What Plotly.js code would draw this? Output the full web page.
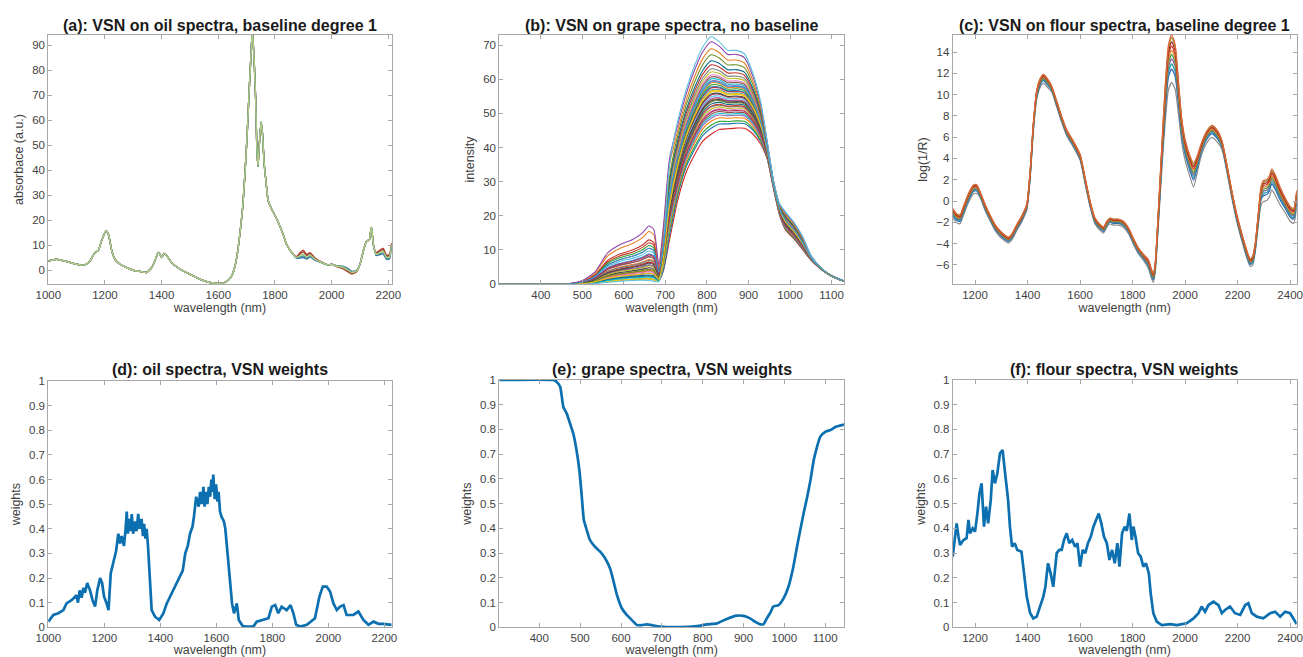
<!DOCTYPE html>
<html><head><meta charset="utf-8">
<script src="https://cdn.plot.ly/plotly-3.0.1.min.js"></script>
<style>html,body{margin:0;padding:0;background:#fff;} #chart{width:1303px;height:657px;}</style>
</head><body><div id="chart"></div>
<script>
// ---------- (a) oil spectra ----------
const oilWl = [1000,1029,1065,1100,1129,1147,1165,1176,1188,1204,1212,1224,1235,1253,1276,1300,1324,1347,1365,1376,1388,1394,1400,1408,1418,1435,1465,1500,1535,1571,1606,1629,1647,1659,1667,1676,1686,1694,1702,1709,1715,1720,1726,1732,1736,1740,1745,1751,1756,1762,1768,1776,1788,1806,1824,1841,1859,1876,1888,1900,1912,1924,1941,1965,1988,2000,2018,2041,2059,2071,2088,2100,2112,2124,2133,2138,2141,2147,2157,2171,2182,2194,2204,2212];
const oilBase = [3.7,4.4,3.5,2.4,2.1,3.7,7.1,7.8,11.8,15.8,14.4,7.8,4.4,2.4,1.1,0,-0.5,-0.9,1.1,3.7,7.1,6.4,5.1,6.7,5.8,3.1,0.4,-1.6,-3.6,-4.9,-5.3,-4.5,-2.3,1.7,6.4,14.4,25.1,38.5,54.6,71.9,85.3,96,85.3,67.9,49.2,41.5,50.5,59.2,54.6,42.5,35.8,27.8,24.5,20.5,15.8,10.4,7.1,5.1,5.8,6.4,5.3,6.1,4.4,3.1,2.1,2.4,1.7,1.1,0,-0.9,-0.3,2.4,7.8,11.8,12,15.8,17.1,10.4,6.4,7.1,7.5,5.1,5.3,10.4];
const oilDev = [0,0,0,0,0,0,0,0,0,0,0,0,0,0,0,0,0,0,0,0,0,0,0,0,0,0,0,0,0,0,0,0,0,0,0,0,0,0,0,0,0,0,0,0,0,0,0,0,0,0,0,0,0,0,0,0,0,0.3,1.2,1.6,1.0,0.9,0.5,0.2,0,0,-0.2,-0.5,-0.7,-0.6,-0.3,0,0,0,0,0,0,0,0.6,1.0,1.2,0.9,1.0,0.6];
const oilLevels = [1.0,-0.8,0.6,-0.4,0];
const oilColors = ['#c8432e','#2f6db0','#8a4b38','#3f8f8a','#b3cd86'];

// ---------- (b) grape spectra ----------
const grapeWl = [300,400,460,500,530,560,590,620,645,660,672,684,695,710,730,750,770,790,810,830,850,870,890,910,930,945,960,975,990,1010,1030,1050,1070,1090,1110,1130];
const grapeBase = [0,0,0,0,0.1,0.3,0.6,0.8,0.8,0.7,0.5,0.6,3,12,24,32,37,41,43,44.5,44.8,45,45,43.5,40.5,36.5,28,20,15.5,13,10,7,4.8,3,1.7,0.8];
const grapePlat = [0,0,0,0,0,0,0,0,0,0,0,0,8,23,24,25,27,28.5,29.5,26.5,23.7,23.5,22.5,18.5,12.5,5.5,2.5,3.5,5.5,5,4,1.5,0.5,0.2,0.2,0.1];
const grapeHump = [0,0,0,1,3.4,8.7,10.9,12.2,14.2,16.3,15.5,5,6,3,0,0,0,0,0,0,0,0,0,0,0,0,0,0,0,0,0,0,0,0,0,0];
const grapePlatLevels = [0.03,0.09,0.12,0.16,0.19,0.21,0.23,0.26,0.28,0.3,0.31,0.33,0.35,0.37,0.38,0.4,0.42,0.43,0.45,0.47,0.49,0.5,0.52,0.54,0.56,0.58,0.6,0.62,0.65,0.68,0.72,0.76,0.82,0.88,0.95,1.0,0.25,0.36,0.46,0.55];
const grapeHumpLevels = [0.1,0.05,0.3,0.2,0.45,0.15,0.6,0.25,0.05,0.35,0.7,0.2,0.1,0.4,0.3,0.55,0.15,0.25,0.05,0.5,0.35,0.1,0.65,0.2,0.3,0.08,0.45,0.18,0.28,0.38,0.75,0.12,0.22,0.9,1.0,0.02,0.48,0.33,0.15,0.6];
const grapeColors = ['#d62728','#1f77b4','#2ca02c','#ff7f0e','#9467bd','#17becf','#8c564b','#e377c2','#bcbd22','#7f7f7f','#c0392b','#0e6b8c','#6b8e23','#e67e22','#8e44ad','#5bc0de','#b03060','#4a4a4a','#f1c40f','#3498db'];
const grapeTicks = [400,500,600,700,800,900,1000,1100];

// ---------- (c) flour spectra ----------
const flourWl = [1115,1130,1143,1156,1175,1194,1206,1219,1238,1257,1276,1295,1314,1327,1340,1359,1378,1397,1410,1422,1435,1448,1460,1473,1492,1511,1530,1549,1575,1600,1619,1638,1657,1676,1689,1702,1714,1727,1746,1765,1784,1803,1822,1841,1860,1873,1879,1886,1898,1911,1924,1937,1949,1962,1975,1987,2000,2019,2032,2044,2063,2083,2102,2121,2140,2159,2178,2197,2216,2235,2248,2257,2267,2279,2289,2298,2311,2321,2330,2343,2362,2381,2400,2413,2425];
const flourBase = [-1.0,-1.5,-1.6,-0.8,0.4,1.2,1.25,0.7,-0.5,-1.5,-2.4,-3.0,-3.4,-3.6,-3.3,-2.4,-1.6,-0.5,2.6,7.0,10.1,11.2,11.6,11.3,10.6,9.2,7.75,6.5,5.4,4.2,2.0,-0.2,-1.8,-2.4,-2.65,-2.1,-1.8,-1.9,-1.9,-2.1,-2.7,-3.7,-4.6,-5.2,-5.8,-6.8,-7.1,-6.2,-1.5,4.2,9.5,13.2,14.0,13.2,10.1,7.0,5.1,3.5,2.75,3.5,5.1,6.2,6.7,6.3,5.4,3.2,0.7,-1.5,-3.3,-4.9,-5.7,-5.5,-4.3,-1.5,0.7,1.2,1.3,1.65,2.3,1.8,0.7,-0.2,-1.0,-1.2,0.4];
const flourSpread = [0.3,0.3,0.3,0.3,0.3,0.3,0.3,0.2,0.2,0.2,0.2,0.2,0.2,0.2,0.2,0.2,0.2,0.2,0.3,0.3,0.3,0.3,0.3,0.3,0.2,0.2,0.2,0.2,0.2,0.2,0.2,0.2,0.2,0.2,0.2,0.2,0.2,0.2,0.2,0.2,0.2,0.2,0.2,0.2,0.3,0.3,0.3,0.3,0.5,0.8,1.2,1.5,1.6,1.5,1.1,0.8,0.7,0.7,0.8,0.6,0.4,0.4,0.4,0.4,0.3,0.25,0.25,0.25,0.25,0.25,0.25,0.3,0.3,0.4,0.6,0.7,0.7,0.7,0.7,0.7,0.6,0.5,0.5,0.5,0.6];
const flourLevels = [-1.8,-1,-0.7,-0.4,-0.15,0.1,0.35,0.6,0.85,1.0];
const flourColors = ['#8a8a8a','#2b5fb8','#17a0a0','#8e5ea2','#3a9a3a','#e08a2e','#d03a2a','#a02020','#9a9a30','#e0603a'];

// ---------- (d) oil weights ----------
const oilWeightWl = [1000,1018,1036,1054,1065,1083,1101,1106,1112,1119,1125,1131,1139,1149,1158,1167,1175,1185,1192,1199,1208,1215,1223,1232,1242,1250,1256,1262,1270,1276,1280,1284,1289,1293,1298,1303,1310,1315,1321,1326,1333,1338,1342,1347,1351,1356,1361,1369,1381,1396,1411,1423,1435,1446,1458,1470,1480,1489,1498,1506,1515,1520,1524,1528,1532,1537,1542,1548,1554,1558,1563,1568,1573,1578,1582,1586,1589,1594,1599,1604,1608,1613,1618,1627,1632,1637,1646,1656,1663,1673,1680,1694,1708,1732,1744,1768,1786,1798,1810,1821,1833,1851,1865,1875,1885,1899,1923,1952,1968,1980,1994,2006,2018,2030,2042,2054,2065,2089,2107,2125,2143,2161,2179,2196,2226];
const oilWeights = [0.023,0.05,0.057,0.07,0.097,0.11,0.13,0.10,0.15,0.12,0.16,0.14,0.18,0.15,0.11,0.084,0.15,0.2,0.18,0.125,0.097,0.07,0.22,0.26,0.31,0.38,0.34,0.37,0.33,0.40,0.47,0.38,0.44,0.39,0.46,0.38,0.43,0.39,0.46,0.40,0.44,0.37,0.42,0.36,0.40,0.33,0.23,0.07,0.043,0.03,0.057,0.097,0.125,0.15,0.18,0.21,0.23,0.30,0.33,0.38,0.41,0.45,0.50,0.53,0.51,0.49,0.55,0.50,0.57,0.49,0.55,0.50,0.57,0.53,0.60,0.55,0.62,0.52,0.58,0.51,0.55,0.47,0.45,0.43,0.40,0.33,0.22,0.097,0.057,0.097,0.03,0.005,0.003,0.003,0.023,0.03,0.037,0.084,0.09,0.057,0.084,0.07,0.09,0.057,0.01,0.003,0.01,0.037,0.125,0.165,0.165,0.145,0.097,0.07,0.084,0.09,0.05,0.05,0.064,0.03,0.01,0.023,0.014,0.014,0.01];

// ---------- (e) grape weights ----------
const grapeWeightWl = [302,434,442,451,459,467,475,483,491,498,504,509,516,524,536,549,561,573,581,590,602,614,626,639,651,663,675,696,745,786,810,835,859,884,900,916,928,941,949,957,965,973,986,998,1010,1022,1031,1039,1047,1056,1064,1072,1080,1088,1101,1113,1126,1146];
const grapeWeights = [1,1,0.993,0.973,0.89,0.865,0.825,0.784,0.717,0.636,0.528,0.434,0.394,0.353,0.326,0.306,0.279,0.239,0.191,0.131,0.077,0.05,0.03,0.009,0.009,0.012,0.009,0.003,0.001,0.005,0.012,0.016,0.034,0.047,0.046,0.036,0.023,0.012,0.013,0.036,0.057,0.084,0.09,0.117,0.164,0.245,0.326,0.394,0.46,0.528,0.596,0.677,0.73,0.771,0.791,0.798,0.811,0.82];

// ---------- (f) flour weights ----------
const flourWeightWl = [1115,1124,1130,1137,1143,1156,1168,1175,1181,1191,1200,1209,1217,1225,1234,1242,1250,1260,1267,1276,1285,1295,1305,1316,1326,1333,1341,1351,1361,1377,1387,1397,1410,1422,1435,1448,1460,1468,1478,1488,1498,1511,1521,1530,1539,1549,1559,1570,1581,1590,1600,1610,1620,1630,1641,1651,1661,1671,1681,1691,1702,1712,1722,1732,1742,1750,1760,1770,1778,1788,1797,1803,1811,1821,1831,1841,1851,1862,1869,1879,1892,1911,1943,1968,2006,2032,2051,2063,2076,2089,2108,2127,2140,2152,2171,2190,2210,2229,2241,2254,2273,2298,2324,2343,2362,2381,2400,2413,2425];
const flourWeights = [0.286,0.367,0.42,0.367,0.333,0.353,0.36,0.434,0.38,0.40,0.387,0.46,0.542,0.582,0.407,0.488,0.42,0.515,0.636,0.582,0.623,0.704,0.717,0.609,0.515,0.407,0.326,0.34,0.313,0.306,0.218,0.124,0.057,0.036,0.043,0.09,0.124,0.164,0.259,0.218,0.164,0.30,0.313,0.313,0.353,0.38,0.34,0.353,0.326,0.34,0.245,0.313,0.30,0.34,0.367,0.407,0.434,0.46,0.42,0.367,0.34,0.272,0.313,0.259,0.34,0.245,0.38,0.407,0.39,0.46,0.353,0.407,0.367,0.30,0.286,0.245,0.259,0.218,0.137,0.057,0.023,0.009,0.013,0.009,0.016,0.036,0.057,0.084,0.063,0.09,0.104,0.09,0.057,0.07,0.084,0.057,0.05,0.09,0.097,0.057,0.043,0.036,0.057,0.063,0.043,0.063,0.057,0.036,0.013];

// ---------- titles / labels ----------
const panelTitles = ['(a): VSN on oil spectra, baseline degree 1','(b): VSN on grape spectra, no baseline','(c): VSN on flour spectra, baseline degree 1','(d): oil spectra, VSN weights','(e): grape spectra, VSN weights','(f): flour spectra, VSN weights'];
const yTitles = ['absorbace (a.u.)','intensity','log(1/R)','weights','weights','weights'];
const xTitle = 'wavelength (nm)';

const traces = [];
oilLevels.forEach((lv,k)=>traces.push({x:oilWl, y:oilBase.map((v,i)=>v+lv*oilDev[i]), xaxis:'x', yaxis:'y', mode:'lines', line:{color:oilColors[k], width:1.4, shape:'spline', smoothing:0.5}, hoverinfo:'skip'}));
grapePlatLevels.forEach((p,k)=>traces.push({x:grapeWl, y:grapeBase.map((v,i)=>v+p*grapePlat[i]+grapeHumpLevels[k]*grapeHump[i]), xaxis:'x2', yaxis:'y2', mode:'lines', line:{color:grapeColors[k%grapeColors.length], width:1.1, shape:'spline', smoothing:0.6}, hoverinfo:'skip'}));
flourLevels.forEach((lv,k)=>traces.push({x:flourWl, y:flourBase.map((v,i)=>v+lv*flourSpread[i]), xaxis:'x3', yaxis:'y3', mode:'lines', line:{color:flourColors[k], width:1.2, shape:'spline', smoothing:0.6}, hoverinfo:'skip'}));
const wColor = '#0b6fb0';
traces.push({x:oilWeightWl, y:oilWeights, xaxis:'x4', yaxis:'y4', mode:'lines', line:{color:wColor, width:2.7}, hoverinfo:'skip'});
traces.push({x:grapeWeightWl, y:grapeWeights, xaxis:'x5', yaxis:'y5', mode:'lines', line:{color:wColor, width:2.7, shape:'spline', smoothing:0.5}, hoverinfo:'skip'});
traces.push({x:flourWeightWl, y:flourWeights, xaxis:'x6', yaxis:'y6', mode:'lines', line:{color:wColor, width:2.7}, hoverinfo:'skip'});

const W = 1303, H = 657;
const boxes = [
  [48.3,391.7,35,284],[499.3,844,35,284],[952.7,1296.7,35,284],
  [48.3,391.7,381,627.3],[499.3,844,380,627.3],[952.7,1296.7,380,627.3]
];
const xRanges = [[1000,2212],[300,1130],[1115,2425],[1000,2226],[302,1146],[1115,2425]];
const yRanges = [[-5.5,94.1],[0,73],[-7.8,15.6],[0,1],[0,1],[0,1]];
const xDticks = [200,100,200,200,100,200];
const yDticks = [10,10,2,0.1,0.1,0.1];

const grey = '#a8a8a8';
const txt = '#3f3f3f';
const layout = {width:W, height:H, margin:{l:0,r:0,t:0,b:0}, paper_bgcolor:'#fff', plot_bgcolor:'#fff', showlegend:false,
  font:{family:'"Liberation Sans", Arial, sans-serif', color:txt, size:11}, annotations:[]};
boxes.forEach((b,i)=>{
  const n = i===0 ? '' : (i+1);
  const common = {showline:true, linecolor:grey, linewidth:1, mirror:'ticks', ticks:'inside', ticklen:4, tickcolor:grey, showgrid:false, zeroline:false, tickfont:{size:11.5,color:txt}, fixedrange:true};
  const xa = Object.assign({}, common, {domain:[b[0]/W, b[1]/W], range:xRanges[i], anchor:'y'+n,
    title:{text:xTitle, font:{size:12.5,color:txt}, standoff:0}});
  if (i===1 || i===4) { xa.tickmode='array'; xa.tickvals=grapeTicks; } else { xa.dtick=xDticks[i]; xa.tick0=0; }
  layout['xaxis'+n] = xa;
  layout['yaxis'+n] = Object.assign({}, common, {domain:[1-b[3]/H, 1-b[2]/H], range:yRanges[i], dtick:yDticks[i], tick0:0, anchor:'x'+n,
    title:{text:yTitles[i], font:{size:12.5,color:txt}, standoff:5}});
  layout.annotations.push({text:'<b>'+panelTitles[i]+'</b>', xref:'paper', yref:'paper', x:(b[0]+b[1])/2/W, y:1-(i<3?25:369)/H,
    xanchor:'center', yanchor:'middle', showarrow:false, font:{size:16, color:'#1a1a1a'}});
});
Plotly.newPlot('chart', traces, layout, {staticPlot:true, displayModeBar:false});
</script>
</body></html>
